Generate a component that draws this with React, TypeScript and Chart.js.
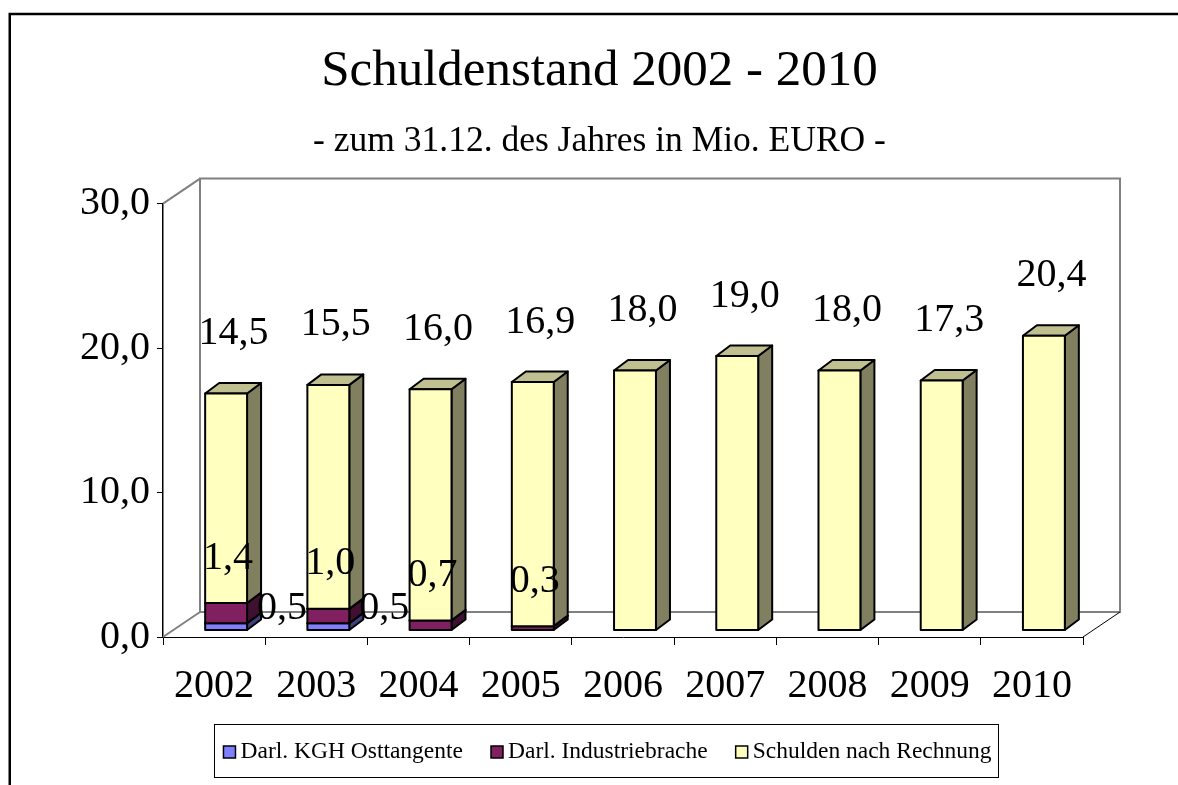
import { useEffect, useRef } from 'react';
import { Chart, registerables } from 'chart.js';

Chart.register(...registerables);

// ---------- data ----------
const years = ['2002', '2003', '2004', '2005', '2006', '2007', '2008', '2009', '2010'];
const kghOsttangente = [0.5, 0.5, 0, 0, 0, 0, 0, 0, 0];
const industriebrache = [1.4, 1.0, 0.7, 0.3, 0, 0, 0, 0, 0];
const schuldenNachRechnung = [14.5, 15.5, 16.0, 16.9, 18.0, 19.0, 18.0, 17.3, 20.4];
const seriesLabels = ['Darl. KGH Osttangente', 'Darl. Industriebrache', 'Schulden nach Rechnung'];
const yTickValues = [0, 10, 20, 30];
const titleText = 'Schuldenstand 2002 - 2010';
const subtitleText = '- zum 31.12. des Jahres in Mio. EURO -';

// ---------- styles ----------
const SERIF = "'Liberation Serif', 'Times New Roman', serif";
const FRONT = ['#8080FF', '#802060', '#FFFFC0'];
const SIDE = ['#40407F', '#401030', '#808060'];
const TOP = ['#6060BF', '#601848', '#BFBF90'];
// label offset relative to the top-centre of the bar front face
const LABEL_OFFSET: [number, number][] = [
  [56, -15],
  [2, -45],
  [7.5, -60],
];
const WALL_DX = 37;
const WALL_DY = 25;
const FRONT_DX = 12;
const FRONT_DY = 6.5;
const BAR_DX = 14;
const BAR_DY = 10.5;

const fmt = (v: number) => v.toFixed(1).replace('.', ',');

const threeD = {
  id: 'threeD',
  afterLayout(chart: any) {
    // widen the y-axis label clip area so the tick labels are not cut off
    const y = chart.scales.y;
    y.left = y.right - 110;
  },
  beforeDatasetDraw() {
    return false;
  },
  beforeDatasetsDraw(chart: any) {
    const { ctx, chartArea } = chart;
    const { left: L, right: R, top: T, bottom: B } = chartArea;
    ctx.save();
    ctx.strokeStyle = '#808080';
    ctx.lineWidth = 2;
    ctx.lineCap = 'butt';
    ctx.beginPath();
    ctx.moveTo(L + WALL_DX, B - WALL_DY);
    ctx.lineTo(L + WALL_DX, T - WALL_DY);
    ctx.lineTo(R + WALL_DX, T - WALL_DY);
    ctx.lineTo(R + WALL_DX, B - WALL_DY);
    ctx.lineTo(L + WALL_DX, B - WALL_DY);
    ctx.moveTo(L, T);
    ctx.lineTo(L + WALL_DX, T - WALL_DY);
    ctx.moveTo(L, B);
    ctx.lineTo(L + WALL_DX, B - WALL_DY);
    ctx.stroke();
    ctx.strokeStyle = '#000';
    ctx.lineWidth = 1;
    ctx.beginPath();
    ctx.moveTo(R, B);
    ctx.lineTo(R + WALL_DX, B - WALL_DY);
    ctx.stroke();
    ctx.restore();
  },
  afterDatasetsDraw(chart: any) {
    const { ctx } = chart;
    const n = chart.data.labels.length;
    const dsCount = chart.data.datasets.length;
    ctx.save();
    ctx.lineWidth = 2;
    ctx.lineJoin = 'round';
    ctx.strokeStyle = '#000';
    const labels: { x: number; y: number; t: string }[] = [];
    for (let i = 0; i < n; i++) {
      for (let d = 0; d < dsCount; d++) {
        const v = chart.data.datasets[d].data[i];
        if (!v) continue;
        const el = chart.getDatasetMeta(d).data[i];
        const x0 = el.x - el.width / 2 + FRONT_DX;
        const x1 = x0 + el.width;
        const yt = el.y - FRONT_DY;
        const yb = el.base - FRONT_DY;
        ctx.beginPath();
        ctx.moveTo(x1, yb);
        ctx.lineTo(x1 + BAR_DX, yb - BAR_DY);
        ctx.lineTo(x1 + BAR_DX, yt - BAR_DY);
        ctx.lineTo(x1, yt);
        ctx.closePath();
        ctx.fillStyle = SIDE[d];
        ctx.fill();
        ctx.stroke();
        ctx.beginPath();
        ctx.moveTo(x0, yt);
        ctx.lineTo(x0 + BAR_DX, yt - BAR_DY);
        ctx.lineTo(x1 + BAR_DX, yt - BAR_DY);
        ctx.lineTo(x1, yt);
        ctx.closePath();
        ctx.fillStyle = TOP[d];
        ctx.fill();
        ctx.stroke();
        ctx.beginPath();
        ctx.rect(x0, yt, x1 - x0, yb - yt);
        ctx.fillStyle = FRONT[d];
        ctx.fill();
        ctx.stroke();
        labels.push({
          x: (x0 + x1) / 2 + LABEL_OFFSET[d][0],
          y: yt + LABEL_OFFSET[d][1],
          t: fmt(v),
        });
      }
    }
    ctx.fillStyle = '#000';
    ctx.font = `40px ${SERIF}`;
    ctx.textAlign = 'center';
    ctx.textBaseline = 'middle';
    labels.forEach((l) => ctx.fillText(l.t, l.x, l.y));
    ctx.restore();
  },
  afterDraw(chart: any) {
    const { ctx } = chart;
    ctx.save();
    const LEGEND_CX = 607.5;
    const LEGEND_Y = 752;
    const SQ = 12;
    const GAP = 5;
    const ITEM_GAP = 28;
    ctx.font = `23.5px ${SERIF}`;
    const ds = chart.data.datasets;
    const widths = ds.map((d: any) => ctx.measureText(d.label).width);
    const total =
      widths.reduce((a: number, w: number) => a + SQ + GAP + w, 0) + ITEM_GAP * (ds.length - 1);
    let x = LEGEND_CX - total / 2;
    ctx.strokeStyle = '#000';
    ctx.lineWidth = 1;
    ctx.strokeRect(Math.round(x - 9) + 0.5, 724.5, Math.round(total + 16), 53);
    ctx.textBaseline = 'middle';
    ctx.textAlign = 'left';
    ds.forEach((d: any, i: number) => {
      ctx.fillStyle = d.backgroundColor;
      ctx.fillRect(x, LEGEND_Y - SQ / 2, SQ, SQ);
      ctx.lineWidth = 1.5;
      ctx.strokeRect(x, LEGEND_Y - SQ / 2, SQ, SQ);
      ctx.fillStyle = '#000';
      ctx.fillText(d.label, x + SQ + GAP, LEGEND_Y);
      x += SQ + GAP + widths[i] + ITEM_GAP;
    });
    ctx.lineWidth = 2.5;
    ctx.strokeStyle = '#000';
    ctx.strokeRect(9.75, 14, 1400, 1000);
    ctx.restore();
  },
};

export default function App() {
  const ref = useRef<HTMLCanvasElement>(null);
  useEffect(() => {
    if (!ref.current) return;
    const series = [kghOsttangente, industriebrache, schuldenNachRechnung];
    const chart = new Chart(ref.current, {
      type: 'bar',
      data: {
        labels: years,
        datasets: series.map((s, i) => ({
          label: seriesLabels[i],
          data: s,
          backgroundColor: FRONT[i],
          borderWidth: 0,
          categoryPercentage: 1,
          barPercentage: 0.41,
        })),
      },
      options: {
        responsive: false,
        animation: false,
        events: [],
        layout: { padding: { left: 116, right: 95, top: 0, bottom: 68 } },
        plugins: {
          title: {
            display: true,
            text: titleText,
            color: '#000',
            font: { family: SERIF, size: 51, weight: 'normal', lineHeight: 1.2 },
            padding: { top: 41.4, bottom: 16.4 },
          },
          subtitle: {
            display: true,
            text: subtitleText,
            color: '#000',
            font: { family: SERIF, size: 35.5, weight: 'normal', lineHeight: 1.2 },
            padding: { top: 1, bottom: 41 },
          },
          legend: { display: false },
          tooltip: { enabled: false },
        },
        scales: {
          x: {
            stacked: true,
            offset: true,
            grid: {
              display: true,
              offset: true,
              drawOnChartArea: false,
              drawTicks: true,
              tickLength: 8,
              color: '#000',
            },
            border: { display: true, color: '#000', width: 1 },
            ticks: {
              color: '#000',
              font: { family: SERIF, size: 40 },
              padding: 17,
              maxRotation: 0,
              autoSkip: false,
            },
            afterFit: (s: any) => {
              s.height = 80;
            },
          },
          y: {
            stacked: true,
            min: 0,
            max: 30,
            grid: { drawOnChartArea: false, drawTicks: true, tickLength: 6, color: '#000' },
            border: { display: true, color: '#000', width: 1.5 },
            ticks: {
              color: '#000',
              font: { family: SERIF, size: 40 },
              padding: 7,
              callback: (v: any) => fmt(Number(v)),
            },
            afterBuildTicks: (s: any) => {
              s.ticks = yTickValues.map((v) => ({ value: v }));
            },
            afterFit: (s: any) => {
              s.width = 47;
            },
          },
        },
      } as any,
      plugins: [threeD],
    });
    return () => chart.destroy();
  }, []);
  return (
    <div style={{ position: 'fixed', left: 0, top: 0, width: 1178, height: 785, background: '#fff' }}>
      <canvas ref={ref} width={1178} height={785} style={{ display: 'block' }} />
    </div>
  );
}
